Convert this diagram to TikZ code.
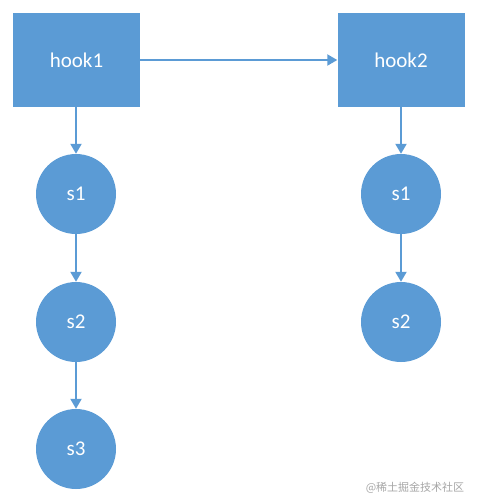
\documentclass[tikz,border=0pt]{standalone}
\usepackage{fontspec}
\setmainfont{Carlito}
\newfontfamily\cjkfont{Noto Sans CJK SC}
\usetikzlibrary{positioning, arrows.meta}
\definecolor{officeblue}{HTML}{5B9BD5}

\begin{document}
\begin{tikzpicture}[
    x=1pt, y=1pt,
    hookbox/.style={
        fill=officeblue,
        minimum width=127pt,
        minimum height=94pt,
        inner sep=0pt,
        text=white,
        font=\fontsize{21}{25}\selectfont
    },
    stepnode/.style={
        circle,
        fill=officeblue,
        minimum size=80pt,
        inner sep=0pt,
        text=white,
        font=\fontsize{21}{25}\selectfont
    },
    arrow/.style={
        -{Triangle[length=10pt, width=11pt]},
        draw=officeblue,
        line width=2pt
    }
]
\useasboundingbox (0,0) rectangle (482,-504);

% Hooks
\node (hook1) at (76.5,-60) [hookbox] {hook1};
\node (hook2) at (401,-60) [hookbox] {hook2};

% Left column
\node (l1) at (76,-194) [stepnode] {s1};
\node (l2) at (76,-322) [stepnode] {s2};
\node (l3) at (76,-449) [stepnode] {s3};

% Right column
\node (r1) at (401,-194) [stepnode] {s1};
\node (r2) at (401,-322) [stepnode] {s2};

% Arrows
\draw [arrow] (hook1.east) -- (hook2.west);
\draw [arrow] (hook1.south -| l1) -- (l1.north);
\draw [arrow] (l1.south) -- (l2.north);
\draw [arrow] (l2.south) -- (l3.north);
\draw [arrow] (hook2.south) -- (r1.north);
\draw [arrow] (r1.south) -- (r2.north);

% Watermark
\node (mark) at (415,-488) [text=black!35, font=\cjkfont\fontsize{11}{13}\selectfont] {@稀土掘金技术社区};

\end{tikzpicture}
\end{document}
